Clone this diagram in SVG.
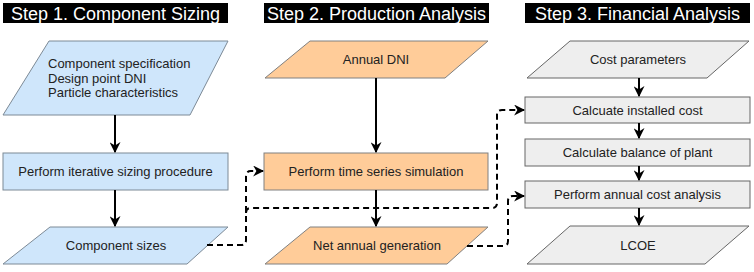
<svg xmlns="http://www.w3.org/2000/svg" width="754" height="272" viewBox="0 0 754 272">
<defs>
<marker id="arr" viewBox="0 0 10 10" refX="9" refY="5" markerWidth="5.5" markerHeight="5.5" orient="auto" markerUnits="strokeWidth">
<path d="M0,0 L10,5 L0,10 L3,5 Z" fill="#000"/>
</marker>
<style>
text{font-family:"Liberation Sans",Arial,sans-serif;font-size:13px;fill:#222}
.hdr rect{fill:#000}
.hdr text{fill:#fff;font-size:18px;text-anchor:middle}
.blue{fill:#cfe6fb;stroke:#7d8a96;stroke-width:1}
.orange{fill:#ffcc99;stroke:#808080;stroke-width:1}
.gray{fill:#eeeeee;stroke:#666;stroke-width:1}
.c{text-anchor:middle}
.solid{fill:none;stroke:#000;stroke-width:2;marker-end:url(#arr)}
.dash{fill:none;stroke:#000;stroke-width:2;stroke-dasharray:6 4;marker-end:url(#arr)}
</style>
</defs>
<rect width="754" height="272" fill="#fff"/>
<g id="hdr1" class="hdr"><rect x="3" y="3" width="225" height="20"/><text x="115.5" y="19.5">Step 1. Component Sizing</text></g>
<g id="hdr2" class="hdr"><rect x="264" y="3" width="225" height="20"/><text x="376.5" y="19.5">Step 2. Production Analysis</text></g>
<g id="hdr3" class="hdr"><rect x="525" y="3" width="225" height="20"/><text x="637.5" y="19.5">Step 3. Financial Analysis</text></g>

<g id="inputs1"><polygon class="blue" points="49,41 228,41 190,115 3,115"/>
<text x="48" y="68">Component specification</text>
<text x="48" y="82.5">Design point DNI</text>
<text x="48" y="97">Particle characteristics</text></g>
<g id="sizing"><rect class="blue" x="3" y="153" width="225" height="37"/><text class="c" x="115.5" y="176">Perform iterative sizing procedure</text></g>
<g id="sizes"><polygon class="blue" points="50,227 228,227 187,264 3,264"/><text class="c" x="116" y="250">Component sizes</text></g>

<g id="dni"><polygon class="orange" points="310,41 488,41 445,78 265,78"/><text class="c" x="376" y="64">Annual DNI</text></g>
<g id="sim"><rect class="orange" x="264" y="153" width="224" height="37"/><text class="c" x="376" y="176">Perform time series simulation</text></g>
<g id="gen"><polygon class="orange" points="310,227 488,227 447,264 265,264"/><text class="c" x="377" y="250">Net annual generation</text></g>

<g id="cost"><polygon class="gray" points="570,41 749,41 707,78 527,78"/><text class="c" x="638" y="64">Cost parameters</text></g>
<g id="installed"><rect class="gray" x="525" y="97" width="225" height="26"/><text class="c" x="637.5" y="114.5">Calcuate installed cost</text></g>
<g id="bop"><rect class="gray" x="525" y="139" width="225" height="27"/><text class="c" x="637.5" y="157">Calculate balance of plant</text></g>
<g id="annual"><rect class="gray" x="525" y="181" width="225" height="27"/><text class="c" x="637.5" y="199">Perform annual cost analysis</text></g>
<g id="lcoe"><polygon class="gray" points="570,226 749,226 705,264 527,264"/><text class="c" x="638" y="249.5">LCOE</text></g>

<g id="connectors">
<path class="solid" d="M115,115 V152"/>
<path class="solid" d="M115,190 V226"/>
<path class="solid" d="M376,78 V152"/>
<path class="solid" d="M376,190 V226"/>
<path class="solid" d="M639,78 V96"/>
<path class="solid" d="M639,123 V138"/>
<path class="solid" d="M639,166 V180"/>
<path class="solid" d="M639,208 V225"/>
<path class="dash" d="M207,245 H241 Q246,245 246,240 V176 Q246,171 251,171 H263"/>
<path class="dash" d="M246,213 Q246,208 251,208 H492 Q497,208 497,203 V115 Q497,110 502,110 H524"/>
<path class="dash" d="M467,246 H503 Q508,246 508,241 V201 Q508,196 513,196 H524"/>
</g>
</svg>
